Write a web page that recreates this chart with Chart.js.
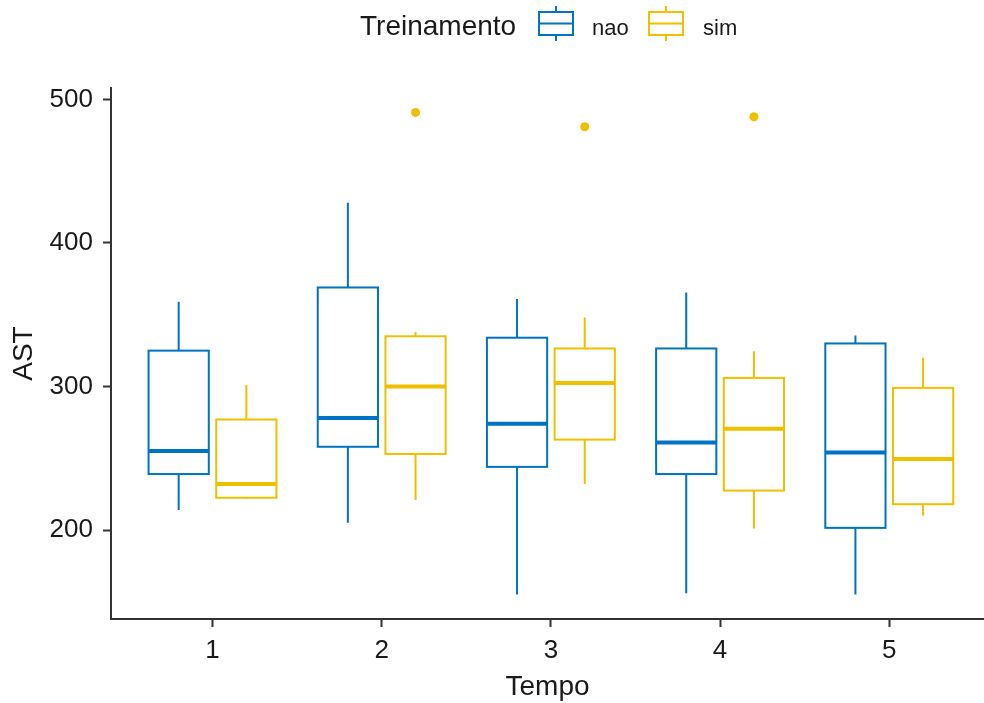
<!DOCTYPE html>
<html>
<head>
<meta charset="utf-8">
<script src="https://cdn.jsdelivr.net/npm/chart.js@4.4.1/dist/chart.umd.min.js"></script>
<style>
  html, body { margin: 0; padding: 0; background: #fff; overflow: hidden; }
  #wrap { position: relative; width: 984px; height: 703px; font-family: "Liberation Sans", Arial, sans-serif; }
  #legend { position: absolute; top: 0; left: 0; width: 984px; height: 56px; }
  .lg { position: absolute; color: #1a1a1a; white-space: nowrap; line-height: 1; }
  .lg-title { font-size: 28px; left: 360px; top: 12px; }
  .lg-lab { font-size: 22px; top: 17px; }
  .lg-icon { position: absolute; top: 5px; }
  canvas { position: absolute; left: 0; top: 0; }
</style>
</head>
<body>
<div id="wrap">
  <canvas id="chart" width="984" height="703"></canvas>
  <div id="legend"></div>
</div>
<script>
document.addEventListener("DOMContentLoaded", function () {

  // categories (Tempo)
  const TEMPOS = [1, 2, 3, 4, 5];
  const Y_TICKS = [200, 300, 400, 500];

  // Treinamento = nao : whisker ends, quartiles, median
  const NAO_LOW  = [214, 205, 155, 156, 155];
  const NAO_Q1   = [239, 258, 244, 239, 201.5];
  const NAO_MED  = [255, 278, 274, 261, 254];
  const NAO_Q3   = [325, 369, 334, 326.5, 330];
  const NAO_HIGH = [359, 428, 361, 365.5, 335.5];

  // Treinamento = sim
  const SIM_LOW  = [222, 221, 232, 201, 210];
  const SIM_Q1   = [222.5, 253, 263, 227.5, 218];
  const SIM_MED  = [232, 300, 302.5, 270.5, 249.5];
  const SIM_Q3   = [277, 335, 326.5, 306, 299];
  const SIM_HIGH = [301, 338, 348, 324.5, 320];

  // outliers (sim only)
  const SIM_OUT_TEMPO = [2, 3, 4];
  const SIM_OUT_VALUE = [491, 481, 488];

  const BLUE = "#0073C2";
  const YELLOW = "#EFC000";
  const AXIS = "#333333";
  const TEXT = "#1a1a1a";
  const FONT = '"Liberation Sans", Arial, sans-serif';

  const GROUPS = [
    { name: "nao", color: BLUE, dx: -0.2, low: NAO_LOW, q1: NAO_Q1, med: NAO_MED, q3: NAO_Q3, high: NAO_HIGH },
    { name: "sim", color: YELLOW, dx: 0.2, low: SIM_LOW, q1: SIM_Q1, med: SIM_MED, q3: SIM_Q3, high: SIM_HIGH }
  ];
  const HALF = 0.178;

  // boxes + whiskers drawn through the chart scales
  const boxPlugin = {
    id: "boxes",
    beforeDatasetsDraw(chart) {
      const { ctx, scales: { x, y } } = chart;
      ctx.save();
      GROUPS.forEach(g => {
        TEMPOS.forEach((t, i) => {
          const cx = x.getPixelForValue(t + g.dx);
          const x0 = x.getPixelForValue(t + g.dx - HALF);
          const x1 = x.getPixelForValue(t + g.dx + HALF);
          const yLow = y.getPixelForValue(g.low[i]);
          const yQ1 = y.getPixelForValue(g.q1[i]);
          const yMed = y.getPixelForValue(g.med[i]);
          const yQ3 = y.getPixelForValue(g.q3[i]);
          const yHigh = y.getPixelForValue(g.high[i]);

          ctx.strokeStyle = g.color;
          ctx.lineWidth = 2;
          ctx.beginPath();
          ctx.moveTo(cx, yQ3); ctx.lineTo(cx, yHigh);
          ctx.moveTo(cx, yQ1); ctx.lineTo(cx, yLow);
          ctx.stroke();

          ctx.fillStyle = "#fff";
          ctx.fillRect(x0, yQ3, x1 - x0, yQ1 - yQ3);
          ctx.strokeRect(x0, yQ3, x1 - x0, yQ1 - yQ3);

          ctx.lineWidth = 4;
          ctx.beginPath();
          ctx.moveTo(x0, yMed); ctx.lineTo(x1, yMed);
          ctx.stroke();
        });
      });
      ctx.restore();
    }
  };

  const ctx = document.getElementById("chart").getContext("2d");
  new Chart(ctx, {
    type: "scatter",
    data: {
      datasets: [{
        label: "sim outliers",
        data: SIM_OUT_TEMPO.map((t, i) => ({ x: t + 0.2, y: SIM_OUT_VALUE[i] })),
        pointRadius: 4.5,
        pointBackgroundColor: YELLOW,
        pointBorderWidth: 0
      }]
    },
    options: {
      responsive: false,
      devicePixelRatio: 1,
      animation: false,
      layout: { autoPadding: false, padding: { top: 88, left: 0, right: 0, bottom: 0 } },
      plugins: { legend: { display: false }, tooltip: { enabled: false } },
      scales: {
        x: {
          type: "linear",
          min: 0.4,
          max: 5.56,
          afterBuildTicks: s => { s.ticks = TEMPOS.map(v => ({ value: v })); },
          afterFit: s => { s.height = 84; },
          grid: { drawOnChartArea: false, drawTicks: true, tickLength: 8, tickColor: AXIS, tickWidth: 2 },
          border: { display: true, color: AXIS, width: 2 },
          ticks: { color: TEXT, font: { family: FONT, size: 26 }, padding: 8 },
          title: { display: true, text: "Tempo", color: TEXT, font: { family: FONT, size: 28 }, padding: { top: 0, bottom: -1 } }
        },
        y: {
          min: 138,
          max: 508,
          afterBuildTicks: s => { s.ticks = Y_TICKS.map(v => ({ value: v })); },
          afterFit: s => { s.width = 111; },
          grid: { drawOnChartArea: false, drawTicks: true, tickLength: 8, tickColor: AXIS, tickWidth: 2 },
          border: { display: true, color: AXIS, width: 2 },
          ticks: { color: TEXT, font: { family: FONT, size: 26 }, padding: 10 },
          title: { display: true, text: "AST", color: TEXT, font: { family: FONT, size: 28 }, padding: { top: 7 } }
        }
      }
    },
    plugins: [boxPlugin]
  });

  // legend
  const legend = document.getElementById("legend");
  const icon = (color, left) =>
    `<svg class="lg-icon" style="left:${left}px" width="36" height="38" viewBox="0 0 36 38">
       <line x1="18" y1="1" x2="18" y2="36" stroke="${color}" stroke-width="2"/>
       <rect x="1" y="7" width="34" height="23" fill="#fff" stroke="${color}" stroke-width="2"/>
       <line x1="1" y1="18.5" x2="35" y2="18.5" stroke="${color}" stroke-width="2"/>
     </svg>`;
  legend.innerHTML =
    `<span class="lg lg-title">Treinamento</span>` +
    icon(BLUE, 538) + `<span class="lg lg-lab" style="left:592px">nao</span>` +
    icon(YELLOW, 648) + `<span class="lg lg-lab" style="left:703px">sim</span>`;
});
</script>
</body>
</html>
